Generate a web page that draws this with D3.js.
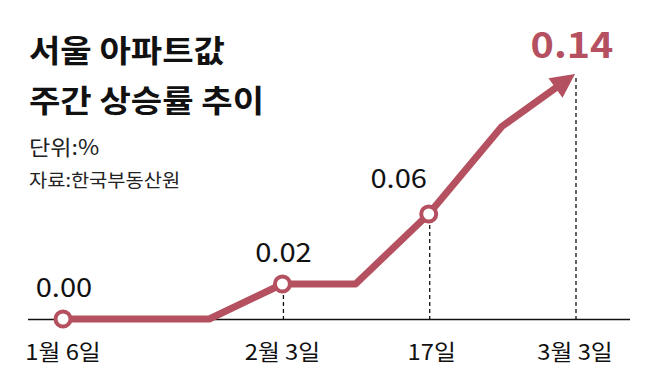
<!DOCTYPE html>
<html><head><meta charset="utf-8">
<script src="https://cdn.jsdelivr.net/npm/d3@7"></script>
<style>body{margin:0;background:#fff}svg{display:block}text{font-family:"Noto Sans CJK KR","Noto Sans",sans-serif}</style>
</head><body>
<svg id="c" width="658" height="390"></svg>
<script>
const dates = ["1/6","1/13","1/20","2/3","2/10","2/17","2/24","3/3"];
const values = [0.00, 0.00, 0.00, 0.02, 0.02, 0.06, 0.11, 0.14];
const tickLabels = {"1/6":"1월 6일","2/3":"2월 3일","2/17":"17일","3/3":"3월 3일"};
const markedPoints = ["1/6","2/3","2/17"];
const valueLabels = {"1/6":"0.00","2/3":"0.02","2/17":"0.06"};
const dashedAt = ["2/3","2/17","3/3"];
const titleLines = ["서울 아파트값","주간 상승률 추이"];
const unitText = "단위:%";
const sourceText = "자료:한국부동산원";
const color = "#b4505f";

const svg = d3.select("#c");
const x = d3.scalePoint().domain(dates).range([63, 575]);
const y = d3.scaleLinear().domain([0, 0.14]).range([319, 74]);
const byDate = new Map(dates.map((d,i)=>[d, values[i]]));

function txt(sel, tx, ty, sx) {
  return sel.attr("transform", `translate(${tx},${ty}) scale(${sx},1)`);
}

// titles
titleLines.forEach((t,i)=>{
  txt(svg.append("text"), 29, 62 + i*50, 1.1)
    .attr("font-size", 31).attr("font-weight", 700).attr("fill", "#111").text(t);
});
txt(svg.append("text"), 29, 155, 1.1).attr("font-size", 21).attr("fill","#222").text(unitText);
txt(svg.append("text"), 29, 187, 1.1).attr("font-size", 18).attr("fill","#222").text(sourceText);

// baseline axis
svg.append("line").attr("x1", 28).attr("x2", 630).attr("y1", y(0)+0.5).attr("y2", y(0)+0.5)
  .attr("stroke", "#111").attr("stroke-width", 1.5);

// dashed verticals
svg.selectAll("line.dash").data(dashedAt).join("line")
  .attr("x1", d=>x(d)+1).attr("x2", d=>x(d)+1)
  .attr("y1", d=>y(byDate.get(d))+4).attr("y2", y(0))
  .attr("stroke", "#111").attr("stroke-width", 1.3).attr("stroke-dasharray", "4,3");

// line, ending at arrow base
const pts = dates.map(d=>[x(d), y(byDate.get(d))]);
const n = pts.length;
const [px,py] = pts[n-2], [tx,ty] = pts[n-1];
const ang = Math.atan2(ty-py, tx-px);
const headLen = 24, headHalf = 12;
const bx = tx - headLen*Math.cos(ang), by = ty - headLen*Math.sin(ang);
const linePts = pts.slice(0, n-1).concat([[bx + 2*Math.cos(ang), by + 2*Math.sin(ang)]]);
svg.append("path").attr("d", d3.line()(linePts))
  .attr("fill","none").attr("stroke", color).attr("stroke-width", 7)
  .attr("stroke-linejoin","round");
const nx = -Math.sin(ang), ny = Math.cos(ang);
svg.append("path").attr("d", d3.line()([[tx,ty],[bx+headHalf*nx, by+headHalf*ny],[bx-headHalf*nx, by-headHalf*ny]]) + "Z")
  .attr("fill", color);

// circles
svg.selectAll("circle.m").data(markedPoints).join("circle")
  .attr("cx", d=>x(d)).attr("cy", d=>y(byDate.get(d))).attr("r", 7.5)
  .attr("fill", "#fff").attr("stroke", color).attr("stroke-width", 4);

// value labels
markedPoints.forEach(d=>{
  const lx = d==="2/17" ? x(d)-30 : x(d)+1;
  const ly = d==="2/17" ? y(byDate.get(d))-26 : y(byDate.get(d))-22;
  txt(svg.append("text"), lx, ly, 1.12).attr("text-anchor","middle")
    .attr("font-size", 26).attr("fill","#111").text(valueLabels[d]);
});
txt(svg.append("text"), x("3/3")-3, 58, 1.1).attr("text-anchor","middle")
  .attr("font-size", 36).attr("font-weight", 700).attr("fill", color)
  .text(d3.format(".2f")(byDate.get("3/3")));

// tick labels
Object.keys(tickLabels).forEach(d=>{
  txt(svg.append("text"), x(d) + (d==="2/17"?3:0), 360, 1.08).attr("text-anchor","middle")
    .attr("font-size", 22).attr("fill","#111").text(tickLabels[d]);
});
</script>
</body></html>
